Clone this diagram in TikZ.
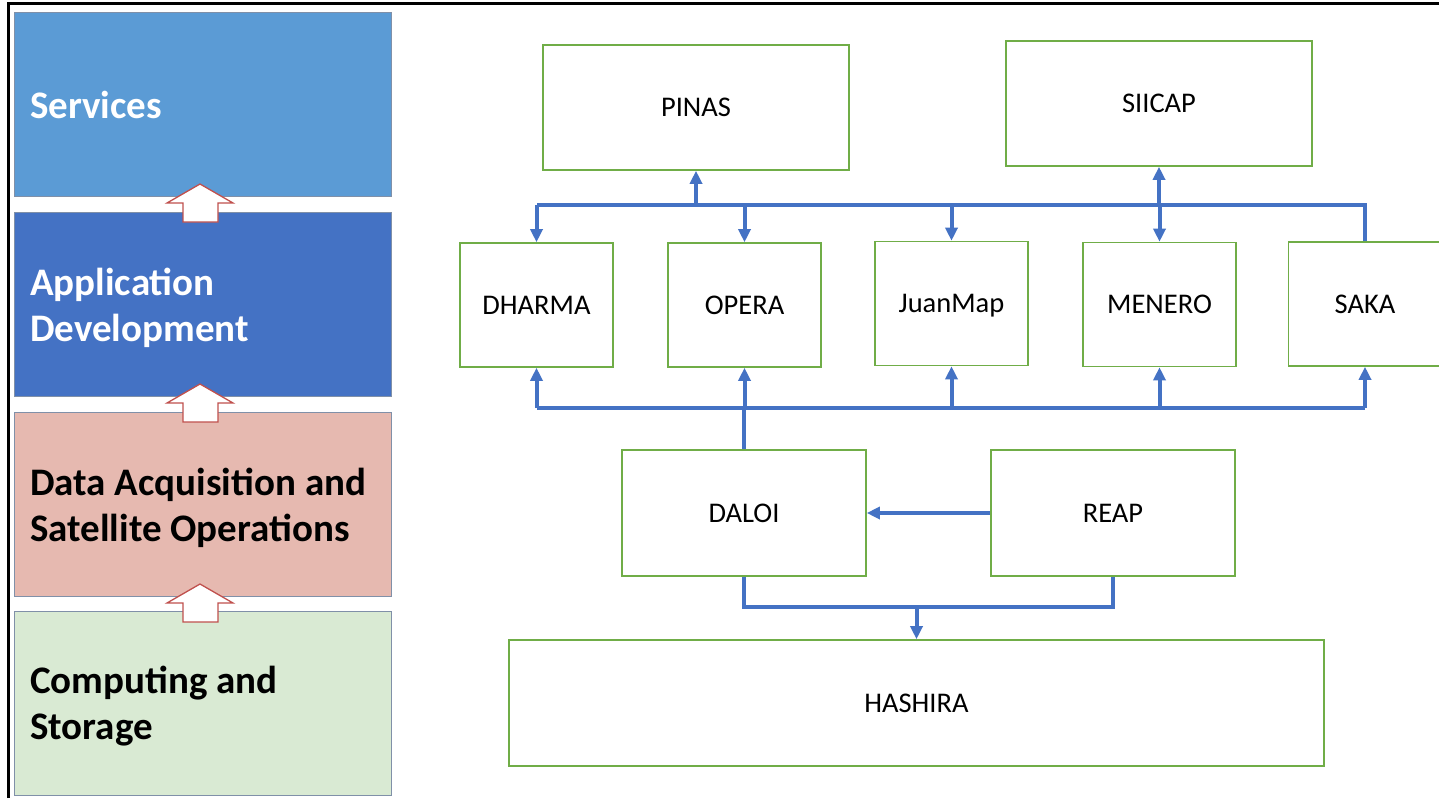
\documentclass[tikz,border=0pt]{standalone}
\usepackage{fontspec}
\setmainfont{Carlito}
\usetikzlibrary{arrows.meta,calc}
\definecolor{svc}{HTML}{5B9BD5}
\definecolor{app}{HTML}{4472C4}
\definecolor{dat}{HTML}{E6B9B0}
\definecolor{cmp}{HTML}{D9EAD3}
\definecolor{lbord}{HTML}{8090A8}
\definecolor{gbord}{HTML}{70AD47}
\definecolor{bline}{HTML}{4472C4}
\definecolor{harrow}{HTML}{C0504D}
\tikzset{
  layer/.style={draw=lbord,line width=1pt,minimum width=377pt,minimum height=184pt,inner sep=0pt},
  layertext/.style={anchor=west,align=left,inner sep=0pt,font=\fontsize{39}{46}\selectfont\bfseries},
  sysbox/.style={draw=gbord,line width=1.6pt,fill=white,inner sep=0pt,text height=18.4pt,text depth=0pt,font=\fontsize{28.5}{32}\selectfont},
  bl/.style={draw=bline,line width=4pt},
  arr/.style={bl,-{Triangle[length=13pt,width=12pt]}},
  hollow/.style={draw=harrow,fill=white,line width=1.3pt,line join=miter}
}
\begin{document}
\begin{tikzpicture}[x=1pt,y=-1pt]
\useasboundingbox (0,0) rectangle (1439,798);
\fill[white] (0,0) rectangle (1439,798);
% frame
\draw[black,line width=3pt] (8,798) -- (8,3) -- (1439,3);
% left layers
\node[layer,fill=svc] (svcbox) at (202.5,104) {};
\node[layer,fill=app] (appbox) at (202.5,304) {};
\node[layer,fill=dat] (datbox) at (202.5,504.5) {};
\node[layer,fill=cmp] (cmpbox) at (202.5,703) {};
\node[layertext,text=white] (svct) at (30,105) {Services};
\node[layertext,text=white] (appt) at (30,308) {Application\\Development};
\node[layertext,text=black] (datt) at (30,508) {Data Acquisition and\\Satellite Operations};
\node[layertext,text=black] (cmpt) at (30,706) {Computing and\\Storage};
% hollow arrows
\foreach \dy in {0,200,400}{
  \draw[hollow] (200,184+\dy) -- (233,203+\dy) -- (218,203+\dy) -- (218,222+\dy) -- (183,222+\dy) -- (183,203+\dy) -- (167,203+\dy) -- cycle;
}
% system boxes
\node[sysbox,minimum width=306pt,minimum height=125pt] (PINAS) at (696,107.5) {PINAS};
\node[sysbox,minimum width=306pt,minimum height=125pt] (SIICAP) at (1159,103.5) {SIICAP};
\node[sysbox,minimum width=153pt,minimum height=124pt] (DHARMA) at (536.5,305) {DHARMA};
\node[sysbox,minimum width=153pt,minimum height=124pt] (OPERA) at (744.5,305) {OPERA};
\node[sysbox,minimum width=153pt,minimum height=124pt] (JUAN) at (951.5,303.5) {JuanMap};
\node[sysbox,minimum width=153pt,minimum height=124pt] (MENERO) at (1159.5,304.5) {MENERO};
\node[sysbox,minimum width=153pt,minimum height=124pt] (SAKA) at (1365,304) {SAKA};
\node[sysbox,minimum width=244pt,minimum height=126pt] (DALOI) at (744,513) {DALOI};
\node[sysbox,minimum width=244pt,minimum height=126pt] (REAP) at (1113,513) {REAP};
\node[sysbox,minimum width=815pt,minimum height=126pt] (HASHIRA) at (916.5,703) {HASHIRA};
% bus coordinates
\coordinate (tb) at (0,205);
\coordinate (bb) at (0,408);
\coordinate (hb) at (0,607);
% top bus
\draw[bl] (SAKA.north) -- (SAKA.north |- tb) -- (DHARMA.north |- tb);
\draw[arr] (PINAS.south |- tb) -- (PINAS.south);
\draw[arr] (SIICAP.south |- tb) -- (SIICAP.south);
\draw[arr] (DHARMA.north |- tb) -- (DHARMA.north);
\draw[arr] (OPERA.north |- tb) -- (OPERA.north);
\draw[arr] (JUAN.north |- tb) -- (JUAN.north);
\draw[arr] (MENERO.north |- tb) -- (MENERO.north);
% bottom bus
\draw[bl] (DALOI.north) -- (DALOI.north |- bb);
\draw[bl] (DHARMA.south |- bb) -- (SAKA.south |- bb);
\draw[arr] (DHARMA.south |- bb) -- (DHARMA.south);
\draw[arr] (OPERA.south |- bb) -- (OPERA.south);
\draw[arr] (JUAN.south |- bb) -- (JUAN.south);
\draw[arr] (MENERO.south |- bb) -- (MENERO.south);
\draw[arr] (SAKA.south |- bb) -- (SAKA.south);
% REAP -> DALOI
\draw[arr] (REAP.west) -- (DALOI.east);
% to HASHIRA
\draw[bl] (DALOI.south) -- (DALOI.south |- hb) -- (REAP.south |- hb) -- (REAP.south);
\draw[arr] (HASHIRA.north |- hb) -- (HASHIRA.north);
\end{tikzpicture}
\end{document}
